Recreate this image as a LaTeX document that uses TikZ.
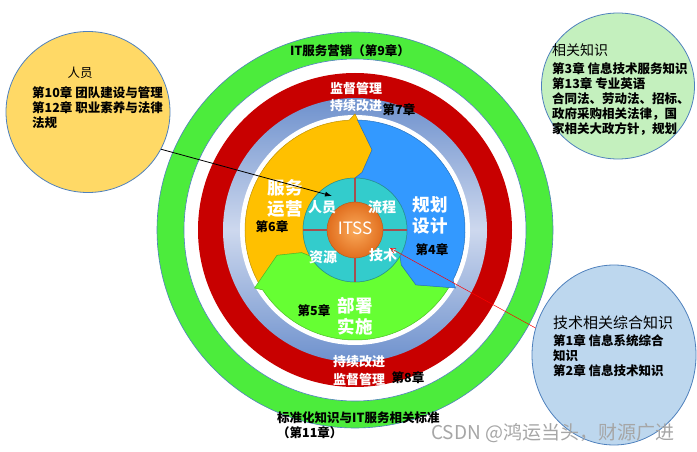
\documentclass[tikz,border=0pt]{standalone}
\usepackage{fontspec}
\newfontfamily\cjk{Noto Sans CJK SC}
\usetikzlibrary{arrows.meta,shapes.geometric}
\definecolor{ringgreen}{RGB}{76,236,60}
\definecolor{ringred}{RGB}{200,0,0}
\definecolor{ringblue}{RGB}{110,145,205}
\definecolor{ringpale}{RGB}{205,216,238}
\definecolor{opyellow}{RGB}{255,192,0}
\definecolor{planblue}{RGB}{51,153,255}
\definecolor{depgreen}{RGB}{102,255,51}
\definecolor{hubteal}{RGB}{51,204,204}
\definecolor{crossred}{RGB}{165,80,80}
\definecolor{ballin}{RGB}{250,170,90}
\definecolor{ballout}{RGB}{225,110,30}
\definecolor{bubyellow}{RGB}{255,217,102}
\definecolor{bubgreen}{RGB}{196,240,190}
\definecolor{bubblue}{RGB}{189,215,238}
\definecolor{bubedge}{RGB}{79,129,189}
\begin{document}
\begin{tikzpicture}[x=1pt, y=1pt, font=\cjk,
    bub/.style={ellipse, draw=bubedge, line width=0.8pt, inner sep=0pt},
    ringtxt/.style={font=\cjk\bfseries\fontsize{13}{15}\selectfont, text=white, inner sep=0pt},
    chap/.style={font=\cjk\bfseries\fontsize{12.5}{15}\selectfont, inner sep=0pt},
    sect/.style={font=\cjk\bfseries\fontsize{17.5}{21}\selectfont, text=white, align=center, inner sep=0pt},
    hub/.style={font=\cjk\bfseries\fontsize{14}{16}\selectfont, text=white, inner sep=0pt},
    bubhead/.style={font=\cjk\fontsize{14}{16}\selectfont, inner sep=0pt},
    bubtxt/.style={font=\cjk\bfseries\fontsize{12.5}{15}\selectfont, align=left, anchor=north west, inner sep=0pt}]
  \useasboundingbox[fill=white] (0,0) rectangle (697,451);
  \coordinate (c) at (355,221);
  \fill[ringgreen, draw=bubedge, line width=0.6pt] (c) circle (198pt);
  \fill[white, draw=bubedge, line width=0.6pt] (c) circle (171pt);
  \fill[ringred] (c) circle (157pt);
  \shade[top color=ringblue, bottom color=ringblue, middle color=ringpale] (c) circle (132pt);
  \fill[white] (c) circle (115pt);
  \begin{scope}[shift={(c)}]
    \foreach \a/\col in {90/opyellow, 210/depgreen, 330/planblue}{
      \pgfmathsetmacro\b{\a+120}
      \filldraw[fill=\col, draw=\col!75!black, line width=0.5pt]
        (\a:52) -- ({\a-7}:58) -- ({\a-12}:82) -- (\a:116) -- ({\a+3}:110)
        arc[start angle=\a+3, end angle=\b-1.3, radius=110pt]
        -- ({\b-12}:82) -- ({\b-7}:58) -- (\b:52)
        arc[start angle=\b, end angle=\a, radius=52pt] -- cycle;
    }
    \filldraw[fill=hubteal, draw=hubteal!70!black, line width=0.5pt] (0,0) circle (52pt);
    \foreach \a in {0,90,180,270}
      \draw[crossred, line width=2pt] (\a:28) -- (\a:52);
    \shade[inner color=ballin, outer color=ballout] (0,0) circle (28pt);
    \draw[ballout!80!black, line width=0.4pt] (0,0) circle (28pt);
  \end{scope}
  \node[font=\cjk\fontsize{17}{19}\selectfont, text=white] (itss) at (355,223) {ITSS};
  \node[hub] (hppl) at (322,244) {人员};
  \node[hub] (hproc) at (382,244) {流程};
  \node[hub] (hres) at (323,194) {资源};
  \node[hub] (htech) at (383,196) {技术};
  \node[sect] (oper) at (285,253) {服务\\运营};
  \node[sect] (plan) at (430,236) {规划\\设计};
  \node[sect] (dep) at (355,135) {部署\\实施};
  \node[chap] (ch6) at (272,224) {第6章};
  \node[chap] (ch4) at (432,201) {第4章};
  \node[chap] (ch5) at (314,140) {第5章};
  \node[ringtxt] (supt) at (356,362) {监督管理};
  \node[ringtxt] (impt) at (356,345) {持续改进};
  \node[chap] (ch7) at (399,341) {第7章};
  \node[ringtxt] (impb) at (359,89) {持续改进};
  \node[ringtxt] (supb) at (359,71) {监督管理};
  \node[chap] (ch8) at (408,73) {第8章};
  \node[chap] (mkt) at (350,400) {IT服务营销（第9章）};
  \node[bubtxt] (std) at (277,39.6) {标准化知识与IT服务相关标准\\（第11章）};
  \node[bub, fill=bubyellow, minimum width=164pt, minimum height=161pt] (ppl) at (88,339) {};
  \node[bubhead, font=\cjk\fontsize{12.5}{15}\selectfont] (pplh) at (80,378) {人员};
  \node[bubtxt] (pplt) at (32,364.6) {第10章 团队建设与管理\\第12章 职业素养与法律\\法规};
  \node[bub, fill=bubgreen, minimum width=153pt, minimum height=146pt] (rel) at (618,365) {};
  \node[bubhead, anchor=west] (relh) at (552,401) {相关知识};
  \node[bubtxt] (relt) at (552,388.6) {第3章 信息技术服务知识\\第13章 专业英语\\合同法、劳动法、招标、\\政府采购相关法律，国\\家相关大政方针，规划};
  \node[bub, fill=bubblue, minimum width=164pt, minimum height=180pt] (tech) at (614,96) {};
  \node[bubhead, font=\cjk\fontsize{15}{17}\selectfont, anchor=west] (techh) at (553,128) {技术相关综合知识};
  \node[bubtxt] (techt) at (553,116.6) {第1章 信息系统综合\\知识\\第2章 信息技术知识};
  \coordinate (pplarr) at (332,255);
  \coordinate (techarr) at (390,203);
  \draw[-{Latex[length=7pt,width=5pt]}, line width=0.8pt] (ppl.-27) -- (pplarr);
  \draw[-{Straight Barb[length=5pt,width=5pt]}, red, line width=0.5pt] (tech.161) -- (techarr);
  \node[anchor=west, font=\cjk\fontsize{19}{21}\selectfont, text=black!35, inner sep=0pt] (mark) at (431,18) {CSDN @鸿运当头，财源广进};
\end{tikzpicture}
\end{document}
